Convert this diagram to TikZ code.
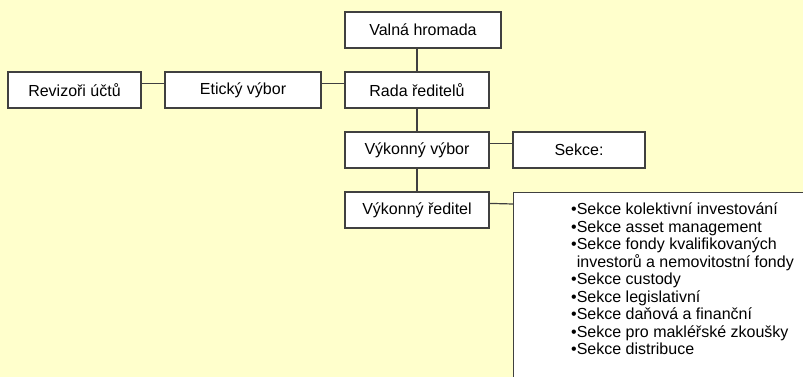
\documentclass[tikz,border=0pt]{standalone}
\usepackage{fontspec}
\setmainfont{Liberation Sans}
\definecolor{bgyellow}{HTML}{FFFFCC}
\definecolor{linegray}{HTML}{404040}
\begin{document}
\begin{tikzpicture}[x=1pt,y=-1pt,
  orgbox/.style={draw=linegray,line width=1.2pt,fill=white,inner sep=0pt,
    minimum height=36pt,font=\fontsize{16}{17.5}\selectfont},
  conn/.style={draw=linegray,line width=1.2pt}]
\useasboundingbox (0,0) rectangle (803,377);
\fill[bgyellow] (0,0) rectangle (803,377);
\clip (0,0) rectangle (803,377);
\node[orgbox,minimum width=156pt] (vh) at (423,30) {Valná hromada};
\node[orgbox,minimum width=144pt] (rada) at (417,90) {Rada ředitelů};
\node[orgbox,minimum width=156pt] (etic) at (243,90) {Etický výbor};
\node[orgbox,minimum width=133pt] (rev) at (74.5,90) {Revizoři účtů};
\node[orgbox,minimum width=144pt] (vv) at (417,150) {Výkonný výbor};
\node[orgbox,minimum width=132pt] (sekce) at (579,150) {Sekce:};
\node[orgbox,minimum width=144pt] (vr) at (417,210) {Výkonný ředitel};
\node[orgbox,minimum width=320pt,minimum height=220pt,anchor=north west] (big) at (513,192) {};
\node[anchor=north west,inner sep=0pt,align=left,font=\fontsize{16}{17.5}\selectfont] (list) at (571,199.5)
 {\rule{0pt}{15pt}•Sekce kolektivní investování\\
  •Sekce asset management\\
  •Sekce fondy kvalifikovaných\\
  \phantom{•}investorů a nemovitostní fondy\\
  •Sekce custody\\
  •Sekce legislativní\\
  •Sekce daňová a finanční\\
  •Sekce pro makléřské zkoušky\\
  •Sekce distribuce};
\draw[conn] (rada.north) -- (rada.north |- vh.south);
\draw[conn] (rada.south) -- (rada.south |- vv.north);
\draw[conn] (vv.south) -- (vv.south |- vr.north);
\draw[conn] ([yshift=-12pt]rev.north east) -- ([yshift=-12pt]etic.north west);
\draw[conn] ([yshift=-12pt]etic.north east) -- ([yshift=-12pt]rada.north west);
\draw[conn] ([yshift=-12pt]vv.north east) -- ([yshift=-12pt]sekce.north west);
\draw[conn] ([yshift=-12pt]vr.north east) -- ([yshift=-12pt]big.north west);
\end{tikzpicture}
\end{document}
